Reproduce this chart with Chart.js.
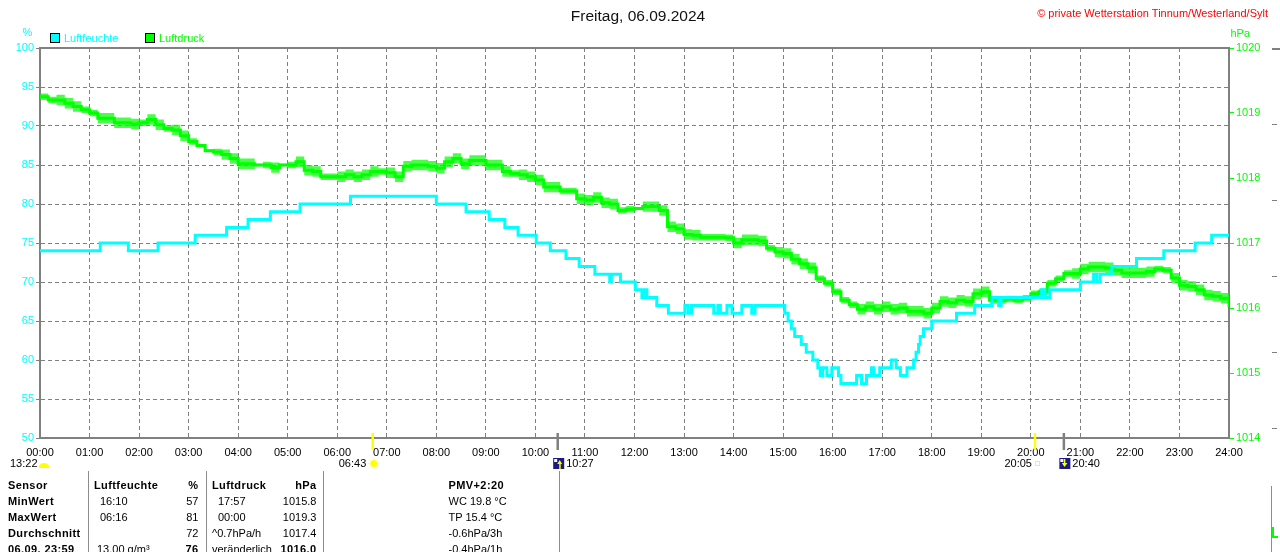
<!DOCTYPE html>
<html><head><meta charset="utf-8">
<script src="https://cdn.jsdelivr.net/npm/chart.js@4.4.1/dist/chart.umd.min.js"></script>
<style>
html,body{margin:0;padding:0;background:#fff;overflow:hidden}
#wrap{position:relative;width:1280px;height:552px;background:#fff}
#c{position:absolute;left:0;top:0}
.t{position:absolute;font-family:"Liberation Sans",Arial,sans-serif;font-size:11px;line-height:12px;white-space:nowrap;color:#000}
.b{font-weight:bold;letter-spacing:0.4px}
.r{text-align:right}
.sep{position:absolute;width:1px;background:#8c8c8c;top:471px;height:81px}
.sq{position:absolute;width:8px;height:8px;border:1px solid #000}
</style></head>
<body><div id="wrap">
<canvas id="c" width="1280" height="552"></canvas>
<div class="t" style="left:0;width:1276px;top:7.5px;text-align:center;font-size:15.5px;line-height:16px;color:#111">Freitag, 06.09.2024</div>
<div class="t r" style="right:12px;top:6.5px;color:#ff0000">© private Wetterstation Tinnum/Westerland/Sylt</div>
<div class="t" style="left:22.5px;top:26px;color:#00ffff">%</div>
<div class="t" style="left:1230.5px;top:26.5px;color:#00ff00">hPa</div>
<div class="sq" style="left:50px;top:33px;background:#00ffff"></div>
<div class="t" style="left:64px;top:32px;color:#00ffff">Luftfeuchte</div>
<div class="sq" style="left:145px;top:33px;background:#00ff00"></div>
<div class="t" style="left:159px;top:32px;color:#00ff00">Luftdruck</div>
<div id="table"></div>
</div>
<script>
// ---------- data ----------
const hourLabels = ['00:00','01:00','02:00','03:00','04:00','05:00','06:00','07:00','08:00','09:00','10:00','11:00','12:00','13:00','14:00','15:00','16:00','17:00','18:00','19:00','20:00','21:00','22:00','23:00','24:00'];

// Luftfeuchte (%) - change points (time, new value)
const humTimes = ['00:00','01:13','01:47','02:23','03:08','03:46','04:12','04:39','05:15','06:16','08:00','08:36','09:04','09:23','09:39','10:01','10:18','10:37','10:53','11:12','11:30','11:32','11:43','12:01','12:09','12:12','12:15','12:27','12:41','13:01','13:05','13:09','13:36','13:41','13:44','13:52','13:58','14:10','14:22','14:26','15:02','15:06','15:10','15:14','15:22','15:28','15:36','15:42','15:45','15:48','15:53','15:59','16:07','16:10','16:29','16:35','16:41','16:47','16:50','16:57','17:11','17:17','17:22','17:30','17:38','17:41','17:44','17:46','17:50','18:00','18:30','18:52','19:13','19:21','19:24','20:13','20:17','20:23','21:00','21:16','21:20','21:24','21:38','22:08','22:41','23:19','23:39','24:00'];
const humValues = [74,75,74,75,76,77,78,79,80,81,80,79,78,77,76,75,74,73,72,71,70,71,70,69,68,69,68,67,66,67,66,67,66,67,66,67,66,67,66,67,66,65,64,63,62,61,60,59,58,59,58,59,58,57,58,57,58,59,58,59,60,59,58,59,60,61,62,63,64,65,66,67,68,67,68,69,68,69,70,71,70,71,72,73,74,75,76,76];

// Luftdruck (hPa) - one reading every 10 minutes from 00:00 to 24:00
const pressStepMinutes = 10;
const pressValues = [
1019.25,1019.2,1019.2,1019.15,1019.1,1019.05,1019.0,1018.92,1018.92,1018.85,
1018.85,1018.83,1018.85,1018.9,1018.82,1018.76,1018.74,1018.65,1018.56,1018.5,
1018.42,1018.4,1018.36,1018.3,1018.22,1018.22,1018.2,1018.2,1018.16,1018.2,
1018.2,1018.25,1018.12,1018.1,1018.02,1018.02,1018.02,1018.05,1018.02,1018.05,
1018.1,1018.1,1018.08,1018.02,1018.18,1018.2,1018.2,1018.18,1018.15,1018.25,
1018.3,1018.22,1018.27,1018.27,1018.2,1018.2,1018.1,1018.07,1018.05,1018.02,
1017.97,1017.86,1017.86,1017.8,1017.8,1017.68,1017.66,1017.7,1017.62,1017.6,
1017.5,1017.52,1017.53,1017.56,1017.56,1017.5,1017.25,1017.22,1017.13,1017.12,
1017.09,1017.09,1017.09,1017.08,1017.0,1017.05,1017.05,1017.03,1016.92,1016.86,
1016.84,1016.75,1016.68,1016.62,1016.45,1016.38,1016.25,1016.12,1016.05,1015.98,
1016.02,1015.98,1016.02,1015.98,1016.0,1015.95,1015.95,1015.92,1016.0,1016.1,
1016.08,1016.12,1016.1,1016.22,1016.25,1016.12,1016.12,1016.14,1016.12,1016.15,
1016.22,1016.25,1016.38,1016.45,1016.53,1016.53,1016.6,1016.63,1016.63,1016.62,
1016.58,1016.54,1016.54,1016.54,1016.56,1016.6,1016.58,1016.46,1016.35,1016.33,
1016.28,1016.2,1016.18,1016.15,1016.02];
// half-range of the short up/down flicker of the reading in each 10-minute slot (hPa)
const pressSpread = [
0.05,0.05,0.08,0.08,0.08,0.05,0.05,0.08,0.08,0.08,
0.08,0.08,0.05,0.08,0.08,0.05,0.08,0.08,0.05,0.02,
0.02,0.05,0.08,0.08,0.08,0.08,0.02,0.05,0.08,0.02,
0.05,0.08,0.08,0.08,0.05,0.05,0.08,0.08,0.08,0.08,
0.08,0.05,0.08,0.08,0.08,0.08,0.08,0.08,0.08,0.08,
0.08,0.08,0.08,0.08,0.08,0.08,0.08,0.05,0.08,0.08,
0.08,0.08,0.08,0.05,0.05,0.08,0.08,0.08,0.08,0.08,
0.05,0.05,0.02,0.08,0.08,0.08,0.08,0.08,0.08,0.08,
0.05,0.05,0.05,0.05,0.08,0.08,0.08,0.08,0.05,0.08,
0.08,0.08,0.08,0.08,0.05,0.05,0.05,0.05,0.05,0.08,
0.08,0.08,0.08,0.08,0.08,0.08,0.08,0.08,0.08,0.08,
0.08,0.08,0.08,0.08,0.08,0.05,0.05,0.05,0.05,0.05,
0.05,0.05,0.05,0.05,0.05,0.08,0.08,0.08,0.08,0.08,
0.08,0.08,0.08,0.08,0.08,0.05,0.05,0.08,0.08,0.08,
0.08,0.08,0.08,0.08,0.05];

// Sun / moon events below the time axis
const eventTimes = ['13:22','06:43','10:27','20:05','20:40'];
const eventKinds = ['moonset','sunrise','moonrise','sunset','moonrise2'];

// Summary table
const tableRows = [
  ['Sensor','Luftfeuchte','%','Luftdruck','hPa','PMV+2:20'],
  ['MinWert','16:10','57','17:57','1015.8','WC 19.8 °C'],
  ['MaxWert','06:16','81','00:00','1019.3','TP 15.4 °C'],
  ['Durchschnitt','','72','^0.7hPa/h','1017.4','-0.6hPa/3h'],
  ['06.09.  23:59','13.00 g/m³','76','veränderlich','1016.0','-0.4hPa/1h']
];

// ---------- helpers ----------
const toMin = s => parseInt(s.slice(0,2),10)*60 + parseInt(s.slice(3),10);
const humData = humTimes.map((t,i)=>({x:toMin(t), y:humValues[i]}));
const pressData = pressValues.map((v,i)=>({x:i*pressStepMinutes, y:v}));
const pressHighData = pressValues.map((v,i)=>({x:i*pressStepMinutes, y:v+pressSpread[i]}));
const pressLowData = pressValues.map((v,i)=>({x:i*pressStepMinutes, y:v-pressSpread[i]}));

// ---------- table (HTML text) ----------
(function(){
  const el = document.getElementById('table');
  const rowTop = [479,495,511,527,542.5];
  let h = '';
  tableRows.forEach((r,i)=>{
    const top = rowTop[i];
    const hdr = i===0;
    const last = i===4;
    h += `<div class="t b" style="left:8px;top:${top}px">${r[0]}</div>`;
    h += `<div class="t ${hdr?'b':''}" style="left:${hdr?94:(last?97:100)}px;top:${top}px">${r[1]}</div>`;
    h += `<div class="t r ${hdr||last?'b':''}" style="left:150px;width:48.5px;top:${top}px">${r[2]}</div>`;
    h += `<div class="t ${hdr?'b':''}" style="left:${(i===1||i===2)?218:212}px;top:${top}px">${r[3]}</div>`;
    h += `<div class="t r ${hdr||last?'b':''}" style="left:260px;width:56.5px;top:${top}px">${r[4]}</div>`;
    h += `<div class="t ${hdr?'b':''}" style="left:448.5px;top:${top}px">${r[5]}</div>`;
  });
  [88,205.5,323,559].forEach(x=>{ h += `<div class="sep" style="left:${x}px"></div>`; });
  h += `<div class="sep" style="left:1271px;top:486px;height:66px"></div>`;
  el.innerHTML = h;
})();

// ---------- plugin for frame, event marks and labels ----------
const extras = {
  id:'extras',
  afterDraw(chart){
    const {ctx, chartArea:a, scales:{x}} = chart;
    ctx.save();
    ctx.strokeStyle='#808080'; ctx.lineWidth=2;
    ctx.beginPath(); ctx.moveTo(a.left-1,a.top); ctx.lineTo(a.right+1,a.top); ctx.stroke();
    ctx.beginPath(); ctx.moveTo(1272,49); ctx.lineTo(1280,49); ctx.stroke();
    ctx.lineWidth=1;
    [124,200,276,352,428].forEach(y=>{ctx.beginPath();ctx.moveTo(1272,y+0.5);ctx.lineTo(1277,y+0.5);ctx.stroke();});
    ctx.strokeStyle='#00ff00'; ctx.lineWidth=2;
    ctx.beginPath(); ctx.moveTo(1273,527); ctx.lineTo(1273,537); ctx.lineTo(1278,537); ctx.stroke();

    ctx.font='11px "Liberation Sans", Arial, sans-serif';
    ctx.textBaseline='middle';
    const ly = 464;
    eventTimes.forEach((t,i)=>{
      const kind = eventKinds[i];
      const px = x.getPixelForValue(toMin(t));
      if(kind==='moonset'){
        ctx.fillStyle='#000'; ctx.textAlign='left'; ctx.fillText(t,10,ly);
        ctx.fillStyle='#ffff00';
        ctx.beginPath(); ctx.ellipse(44,467,5,4,0,Math.PI,2*Math.PI); ctx.fill();
        ctx.fillRect(39,466,10,2);
        return;
      }
      ctx.strokeStyle = (kind==='sunrise'||kind==='sunset') ? '#ffff00' : '#808080';
      ctx.lineWidth = 2.5;
      ctx.beginPath(); ctx.moveTo(px,433); ctx.lineTo(px,450); ctx.stroke();
      if(kind==='sunrise'){
        ctx.fillStyle='#000'; ctx.textAlign='right'; ctx.fillText(t,px-6.5,ly);
        const cx=px+1, cy=463.5;
        ctx.fillStyle='#ffff00'; ctx.beginPath(); ctx.arc(cx,cy,3.5,0,2*Math.PI); ctx.fill();
        ctx.strokeStyle='#ffff66'; ctx.lineWidth=1;
        for(let k=0;k<8;k++){const an=k*Math.PI/4;ctx.beginPath();ctx.moveTo(cx+Math.cos(an)*4.5,cy+Math.sin(an)*4.5);ctx.lineTo(cx+Math.cos(an)*6,cy+Math.sin(an)*6);ctx.stroke();}
      } else if(kind==='sunset'){
        ctx.fillStyle='#000'; ctx.textAlign='right'; ctx.fillText(t,px-3,ly);
        ctx.strokeStyle='#ffff00'; ctx.lineWidth=1;
        ctx.strokeRect(px+0.5,461.5,4,4);
      } else {
        const x0 = px-4.5;
        ctx.fillStyle='#1a1a80'; ctx.fillRect(x0,458,11,11);
        ctx.fillStyle='#ffffff'; ctx.fillRect(x0+1,459,3,3);
        ctx.fillStyle='#ffff00';
        if(kind==='moonrise'){
          ctx.beginPath(); ctx.moveTo(x0+6.5,460); ctx.lineTo(x0+9,464); ctx.lineTo(x0+4,464); ctx.fill();
          ctx.fillRect(x0+6,463,1.5,6);
        } else {
          ctx.fillRect(x0+4.5,459,1.5,5);
          ctx.beginPath(); ctx.moveTo(x0+5.2,467); ctx.lineTo(x0+8,463); ctx.lineTo(x0+2.5,463); ctx.fill();
        }
        ctx.fillStyle='#000'; ctx.textAlign='left'; ctx.fillText(t,px+8.5,ly);
      }
    });
    ctx.restore();
  }
};

const tickFont = {family:'"Liberation Sans", Arial, sans-serif', size:11};
new Chart(document.getElementById('c'),{
  type:'line',
  data:{datasets:[
    {label:'Luftfeuchte', data:humData, yAxisID:'y', borderColor:'#00ffff', backgroundColor:'#00ffff', borderWidth:3, stepped:true, pointRadius:0, fill:false, order:0},
    {label:'Luftdruck', data:pressData, yAxisID:'y1', borderColor:'#00ff00', backgroundColor:'#00ff00', borderWidth:3, stepped:true, pointRadius:0, fill:false, order:1},
    {label:'Luftdruck max', data:pressHighData, yAxisID:'y1', borderWidth:0, borderColor:'rgba(0,0,0,0)', backgroundColor:'rgba(0,255,0,0.72)', stepped:true, pointRadius:0, fill:'+1', order:2},
    {label:'Luftdruck min', data:pressLowData, yAxisID:'y1', borderWidth:0, borderColor:'rgba(0,0,0,0)', backgroundColor:'rgba(0,0,0,0)', stepped:true, pointRadius:0, fill:false, order:3}
  ]},
  options:{
    responsive:false, animation:false, events:[],
    layout:{padding:{top:48,left:0,right:0,bottom:0}},
    plugins:{legend:{display:false}, tooltip:{enabled:false}, title:{display:false}, filler:{propagate:false}},
    scales:{
      x:{type:'linear', min:0, max:1440, position:'bottom',
         afterFit(s){ s.height = 114; },
         ticks:{stepSize:60, autoSkip:false, maxRotation:0, color:'#000', font:tickFont, padding:8,
                callback:(v)=>hourLabels[Math.round(v/60)]},
         grid:{color:'#808080', lineWidth:1, drawTicks:false},
         border:{color:'#808080', width:2, dash:[4,3]}},
      y:{type:'linear', min:50, max:100, position:'left',
         afterFit(s){ s.width = 40; },
         ticks:{stepSize:5, color:'#00ffff', font:tickFont, padding:2, callback:(v)=>String(v)},
         grid:{color:'#808080', lineWidth:1, tickLength:4, tickColor:'#808080', tickBorderDash:[]},
         border:{color:'#808080', width:2, dash:[4,3]}},
      y1:{type:'linear', min:1014, max:1020, position:'right',
         afterFit(s){ s.width = 51; },
         ticks:{stepSize:1, color:'#00ff00', font:tickFont, padding:2, callback:(v)=>String(v)},
         grid:{drawOnChartArea:false, tickLength:5, tickColor:'#00ff00', tickBorderDash:[]},
         border:{color:'#808080', width:2}}
    }
  },
  plugins:[extras]
});
</script>
</body></html>
